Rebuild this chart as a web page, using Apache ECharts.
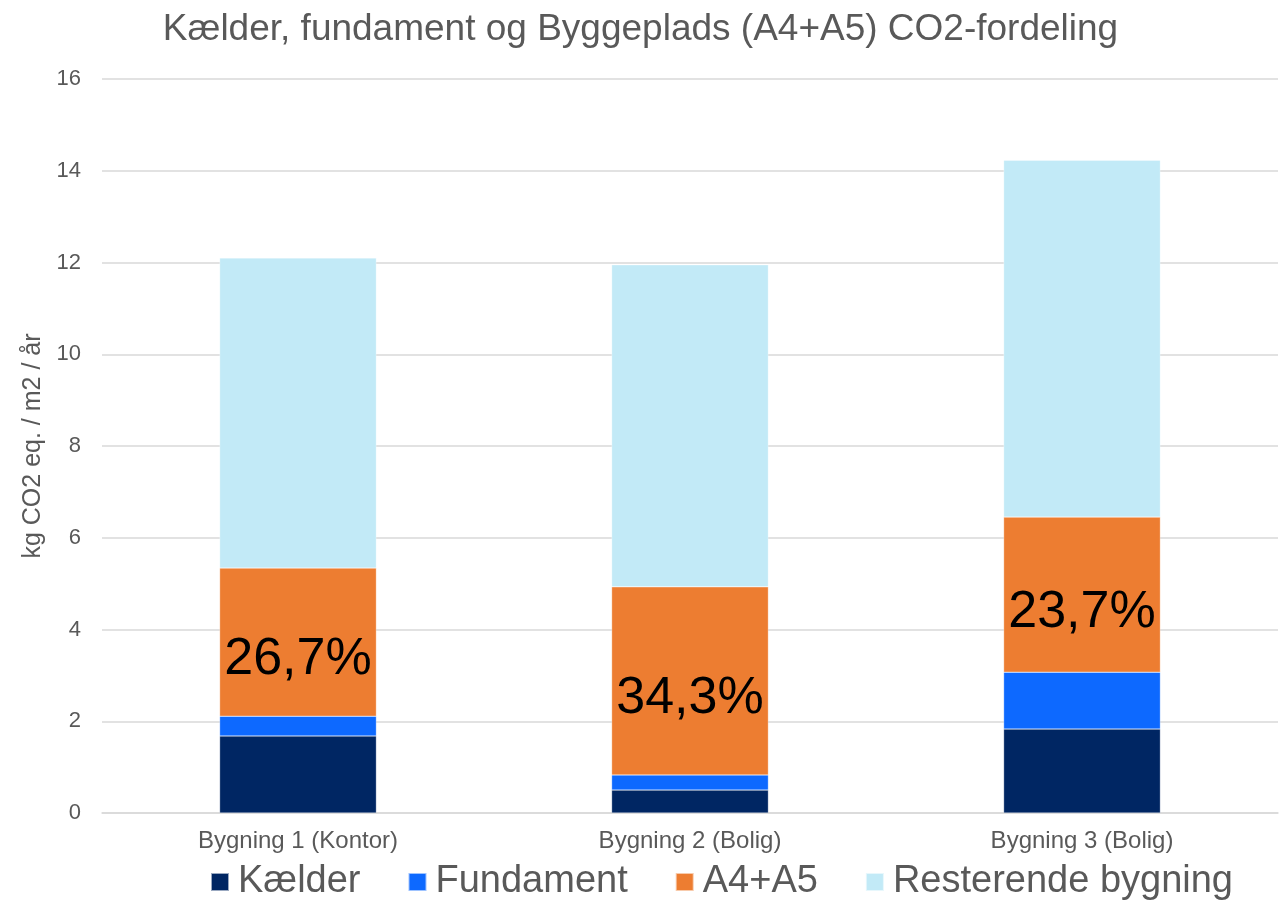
<!DOCTYPE html>
<html>
<head>
<meta charset="utf-8">
<script src="https://cdn.jsdelivr.net/npm/echarts@6/dist/echarts.min.js"></script>
<style>
  html, body { margin: 0; padding: 0; background: #fff; }
  #chart { width: 1281px; height: 906px; }
</style>
</head>
<body>
<div id="chart"></div>
<script>
// data
const categories = ['Bygning 1 (Kontor)', 'Bygning 2 (Bolig)', 'Bygning 3 (Bolig)'];
const kaelder = [1.68, 0.50, 1.83];
const fundament = [0.43, 0.33, 1.24];
const a4a5 = [3.23, 4.10, 3.38];
const resterende = [6.76, 7.02, 7.78];
const shareLabels = ['26,7%', '34,3%', '23,7%'];
const yTicks = [0, 2, 4, 6, 8, 10, 12, 14, 16];

const font = 'Liberation Sans, Arial, sans-serif';
const grey = '#595959';

const barSeries = function (name, data, color, extra) {
  return Object.assign({
    name: name,
    type: 'bar',
    stack: 'total',
    barWidth: '40%',
    itemStyle: { color: color, borderColor: 'rgba(255,255,255,0.6)', borderWidth: 0.5 },
    data: data
  }, extra || {});
};

const option = {
  animation: false,
  textStyle: { fontFamily: font },
  title: {
    text: 'Kælder, fundament og Byggeplads (A4+A5) CO2-fordeling',
    left: 'center',
    top: 6,
    textStyle: { fontFamily: font, fontWeight: 'normal', fontSize: 37, color: grey }
  },
  legend: {
    bottom: 0,
    left: 205,
    itemWidth: 18,
    itemHeight: 18,
    itemGap: 47,
    icon: 'rect',
    textStyle: { fontFamily: font, fontSize: 38, color: grey, padding: [0, 0, 0, 4] }
  },
  grid: { top: 79, left: 102, right: 3, bottom: 93 },
  xAxis: {
    type: 'category',
    data: categories,
    axisTick: { show: false },
    axisLine: { lineStyle: { color: '#D9D9D9', width: 1.5 } },
    axisLabel: { fontFamily: font, fontSize: 24, color: grey, margin: 16 }
  },
  yAxis: {
    type: 'value',
    min: yTicks[0],
    max: yTicks[yTicks.length - 1],
    interval: 2,
    name: 'kg CO2 eq. / m2 / år',
    nameLocation: 'middle',
    nameGap: 51,
    nameTextStyle: { fontFamily: font, fontSize: 25, color: grey },
    axisLabel: { fontFamily: font, fontSize: 22, color: grey, margin: 21 },
    splitLine: { lineStyle: { color: '#D9D9D9', width: 1.5 } }
  },
  series: [
    barSeries('Kælder', kaelder, '#002663'),
    barSeries('Fundament', fundament, '#0D69FF'),
    barSeries('A4+A5', a4a5, '#ED7D31', {
      label: {
        show: true,
        position: 'inside',
        offset: [0, 18],
        fontFamily: font,
        fontSize: 52,
        color: '#000',
        formatter: function (p) { return shareLabels[p.dataIndex]; }
      }
    }),
    barSeries('Resterende bygning', resterende, '#C2EAF7')
  ]
};

const myChart = echarts.init(document.getElementById('chart'));
myChart.setOption(option);
window.addEventListener('resize', () => { myChart.resize(); });
</script>
</body>
</html>
